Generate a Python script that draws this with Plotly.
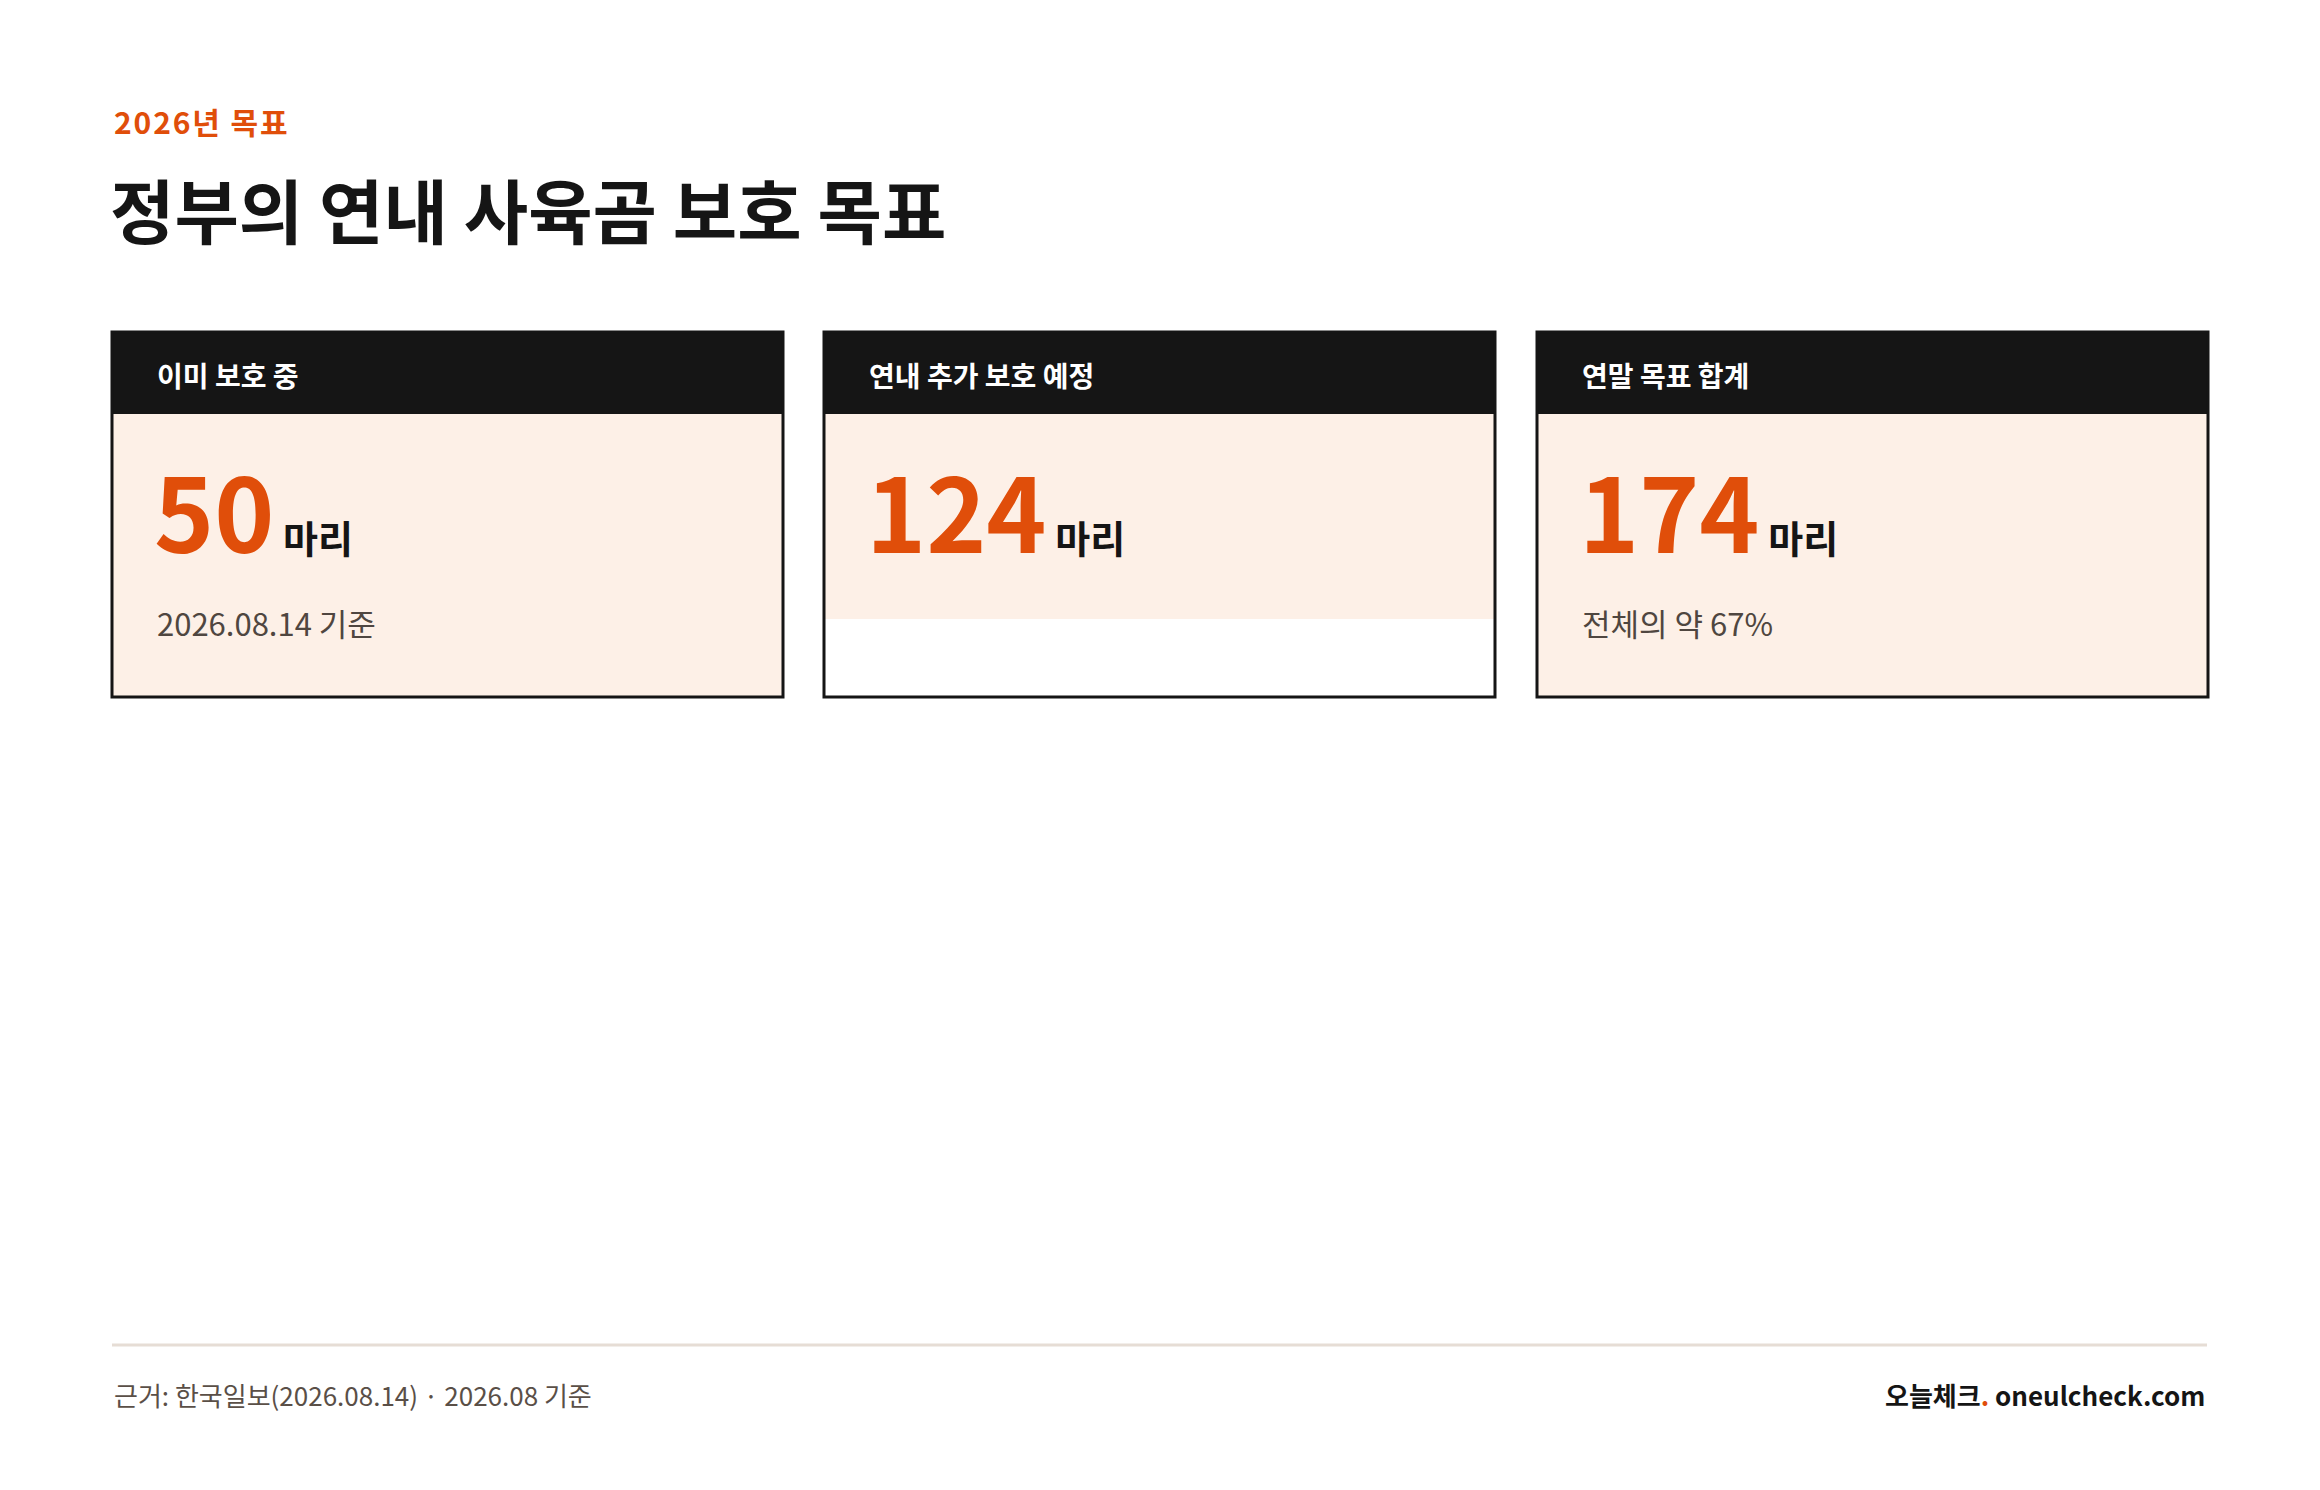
import plotly.graph_objects as go

labels = ["이미 보호 중", "연내 추가 보호 예정", "연말 목표 합계"]
values = [50, 124, 174]
unit = "마리"
notes = ["2026.08.14 기준", "", "전체의 약 67%"]
kicker = "2026년 목표"
title = "정부의 연내 사육곰 보호 목표"
source = "근거: 한국일보(2026.08.14) · 2026.08 기준"
brand = "오늘체크<span style='color:#e04e0a'>.</span> oneulcheck.com"

W, H = 2320, 1490
ORANGE = "#e04e0a"
FONT = "Noto Sans CJK KR"
fig = go.Figure()
fig.add_trace(go.Scatter(x=[0], y=[0], mode="markers", marker=dict(opacity=0), hoverinfo="skip", showlegend=False))

x0s = [104, 816, 1529]
cw = 671
top, hb, bot = 324, 406, 689
shapes, ann = [], []
for i, (lab, v, n) in enumerate(zip(labels, values, notes)):
    x0 = x0s[i]
    fill_bot = 611 if i == 1 else bot
    shapes.append(dict(type="rect", x0=x0, x1=x0 + cw, y0=hb, y1=fill_bot, fillcolor="#fdf0e7", line_width=0, layer="below"))
    shapes.append(dict(type="rect", x0=x0, x1=x0 + cw, y0=top, y1=hb, fillcolor="#151515", line_width=0))
    shapes.append(dict(type="rect", x0=x0, x1=x0 + cw, y0=top, y1=bot, line=dict(color="#151515", width=3), fillcolor="rgba(0,0,0,0)"))
    ann.append(dict(x=x0 + 43, y=367, text=f"<b>{lab}</b>", xanchor="left", yanchor="middle", showarrow=False,
                    font=dict(family=FONT, size=28, color="white")))
    ann.append(dict(x=x0 + 40, y=576, text=f"<b><span style='font-size:102px;color:{ORANGE}'>{v}</span> <span style='font-size:38px;color:#151515'>{unit}</span></b>",
                    xanchor="left", yanchor="bottom", showarrow=False, font=dict(family=FONT, size=38, color="#151515")))
    if n:
        ann.append(dict(x=x0 + 43, y=614, text=n, xanchor="left", yanchor="middle", showarrow=False,
                        font=dict(family=FONT, size=31, color="#4f4640")))

shapes.append(dict(type="line", x0=104, x1=2199, y0=1337, y1=1337, line=dict(color="#e6ddd5", width=3)))
ann += [
    dict(x=104, y=113, text="<b>" + "\u200a".join(kicker) + "</b>", xanchor="left", yanchor="middle", showarrow=False,
         font=dict(family=FONT, size=30, color=ORANGE)),
    dict(x=100, y=200, text=f"<b>{title}</b>", xanchor="left", yanchor="middle", showarrow=False,
         font=dict(family=FONT, size=70, color="#151515")),
    dict(x=104, y=1386, text=source, xanchor="left", yanchor="middle", showarrow=False,
         font=dict(family=FONT, size=26, color="#5a4f47")),
    dict(x=2199, y=1386, text=f"<b>{brand}</b>", xanchor="right", yanchor="middle", showarrow=False,
         font=dict(family=FONT, size=26, color="#151515")),
]

fig.update_layout(width=W, height=H, margin=dict(l=0, r=0, t=0, b=0), paper_bgcolor="white", plot_bgcolor="white",
                  xaxis=dict(range=[0, W], visible=False, fixedrange=True),
                  yaxis=dict(range=[H, 0], visible=False, fixedrange=True),
                  shapes=shapes, annotations=ann, showlegend=False)
fig.write_html("out.html", config={"displayModeBar": False})
